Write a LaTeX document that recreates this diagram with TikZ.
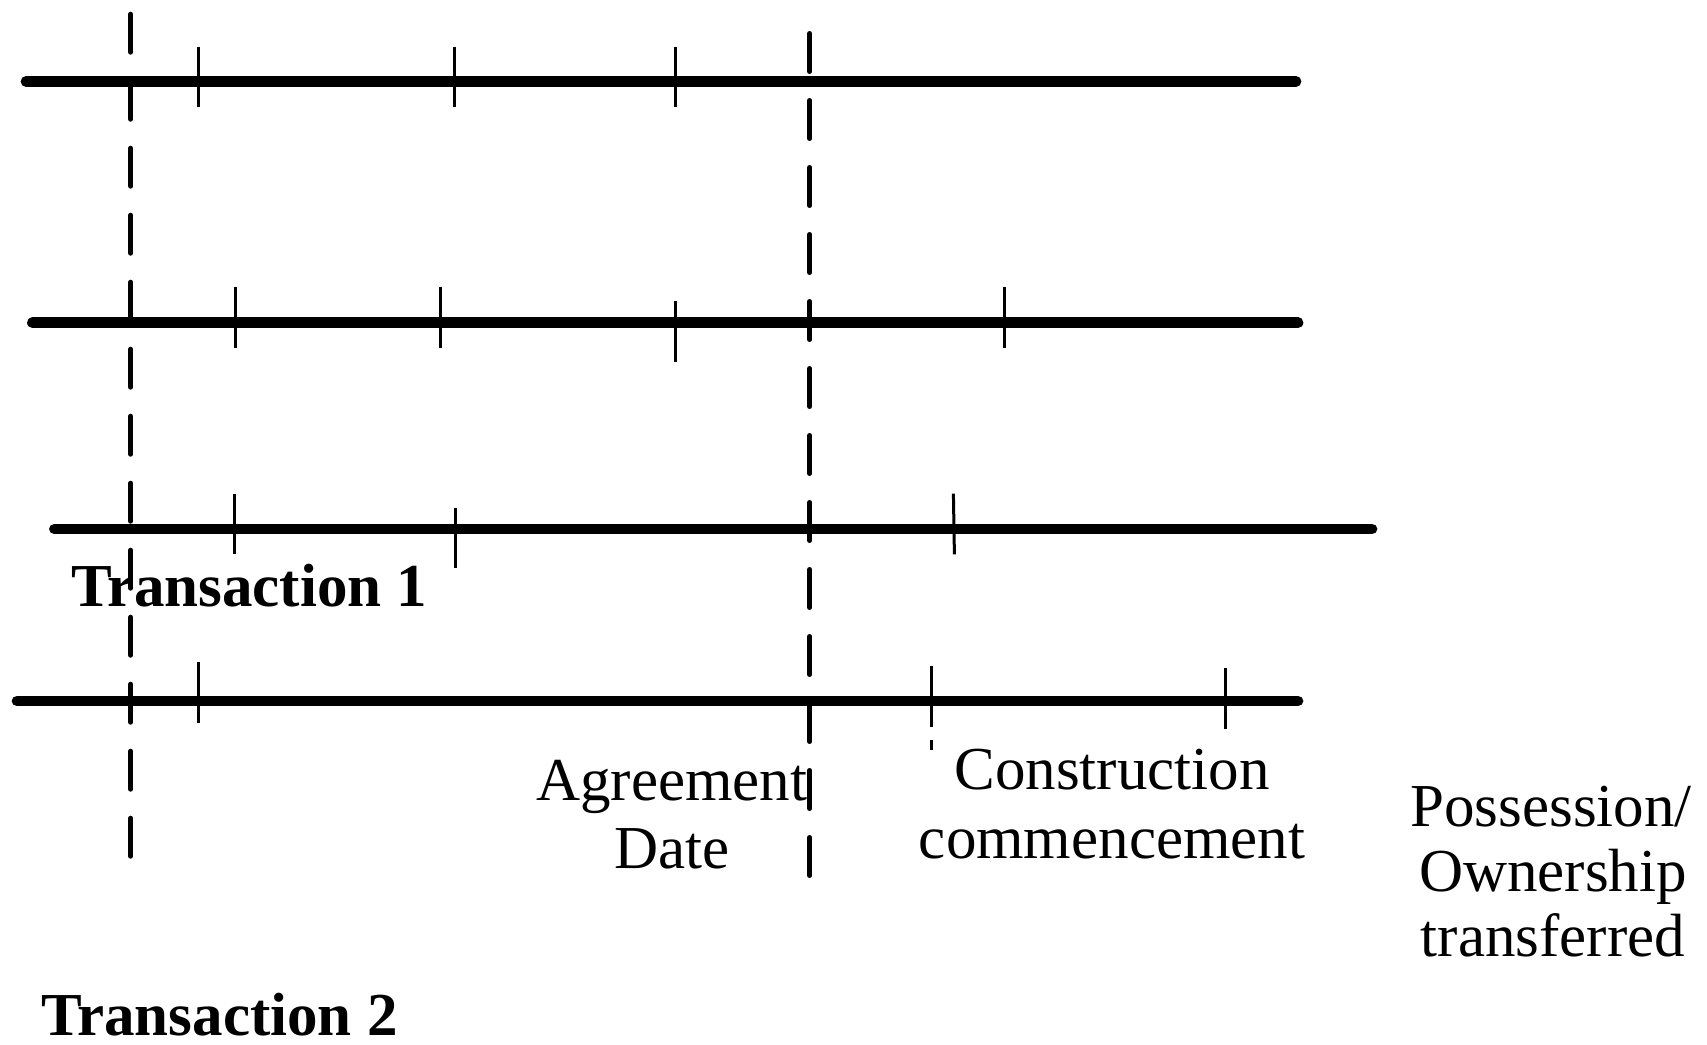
\documentclass[tikz,border=0pt]{standalone}
\usepackage{fontspec}
\setmainfont{Liberation Serif}
\begin{document}
\begin{tikzpicture}[x=1pt,y=-1pt,
  timeline/.style={line width=10.7pt,line cap=round},
  guide/.style={line width=5pt,line cap=round,dash pattern=on 38pt off 29pt},
  tick/.style={line width=3pt},
  lbl/.style={inner sep=0pt,anchor=base,font=\fontsize{61}{67}\selectfont},
  title/.style={inner sep=0pt,anchor=base west,font=\fontsize{61}{67}\selectfont\bfseries}]
\useasboundingbox (0,0) rectangle (1707,1044);
% guide (dashed) lines
\coordinate (gA1) at (130.8,14.2);
\coordinate (gA2) at (130.8,858);
\coordinate (gB1) at (809.8,33.5);
\coordinate (gB2) at (809.8,878);
\draw[guide] (gA1) -- (gA2);
\draw[guide] (gB1) -- (gB2);
% timelines
\coordinate (l1a) at (26,81.5);   \coordinate (l1b) at (1296,81.5);
\coordinate (l2a) at (32.4,322.7); \coordinate (l2b) at (1298,322.7);
\coordinate (l3a) at (54.4,529);  \coordinate (l3b) at (1372,529);
\coordinate (l4a) at (17,701);    \coordinate (l4b) at (1298,701);
\draw[timeline] (l1a) -- (l1b);
\draw[timeline] (l2a) -- (l2b);
\draw[timeline] (l3a) -- (l3b);
\draw[timeline] (l4a) -- (l4b);
% ticks line 1
\draw[tick] (198.6,46.7) -- (198.6,107.3);
\draw[tick] (454.8,46.7) -- (454.8,107.3);
\draw[tick] (675.3,46.7) -- (675.3,107.3);
% ticks line 2
\draw[tick] (235.3,286.7) -- (235.3,348.3);
\draw[tick] (440.5,286.7) -- (440.5,348.3);
\draw[tick] (675.3,301) -- (675.3,361.7);
\draw[tick] (1004.9,287.3) -- (1004.9,348.3);
% ticks line 3
\draw[tick] (234.2,494) -- (234.2,554);
\draw[tick] (455.3,507.7) -- (455.3,568.3);
\draw[tick] (953.4,493.7) -- (954.4,554.3);
% ticks line 4
\draw[tick] (198.6,662.3) -- (198.6,722.7);
\draw[tick] (931.9,665.7) -- (931.9,726.7);
\draw[tick] (931.9,740) -- (931.9,750);
\draw[tick] (1225,668) -- (1225,729);
% labels
\node[title] (t1) at (70.8,606) {Transaction 1};
\node[title] (t2) at (41,1035) {Transaction 2};
\node[lbl] (ag1) at (671.7,800) {Agreement};
\node[lbl] (ag2) at (672,868) {Date};
\node[lbl] (co1) at (1112,789) {Construction};
\node[lbl] (co2) at (1112,858) {commencement};
\node[lbl] (po1) at (1551,826) {Possession/};
\node[lbl] (po2) at (1553,891) {Ownership};
\node[lbl] (po3) at (1553,956) {transferred};
\end{tikzpicture}
\end{document}
